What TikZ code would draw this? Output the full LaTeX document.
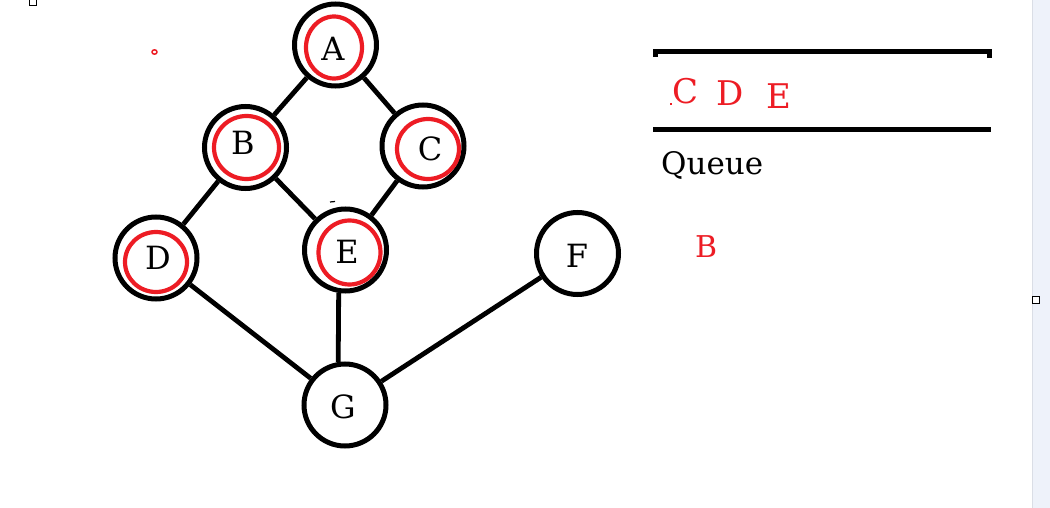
\documentclass[tikz,border=0pt]{standalone}
\usepackage{fontspec}
\setmainfont{DejaVu Serif}
\definecolor{pred}{RGB}{237,28,36}
\definecolor{stripfill}{RGB}{238,242,250}
\definecolor{stripline}{RGB}{218,222,230}
\begin{document}
\begin{tikzpicture}[x=1pt,y=-1pt,
  vertex/.style={circle,draw=black,line width=5pt,minimum size=82pt,inner sep=0pt},
  vlabel/.style={inner sep=0pt,font=\fontsize{32}{32}\selectfont},
  edge/.style={line width=4.8pt},
  ring/.style={draw=pred,line width=4.2pt},
  qtext/.style={text=pred,inner sep=0pt,anchor=base west,font=\fontsize{34}{34}\selectfont},
  qline/.style={line width=5pt}]
\useasboundingbox (0,0) rectangle (1050,508);
\fill[white] (0,0) rectangle (1050,508);
\fill[stripfill] (1032,0) rectangle (1050,508);
\draw[stripline,line width=1pt] (1032.5,0) -- (1032.5,508);
\draw[line width=1pt,fill=white] (1032.5,296.5) rectangle (1039,303);
\draw[line width=1pt] (29.5,-1) rectangle (36.5,5.5);
\draw[pred,line width=1.5pt] (154.5,52) ellipse (2.5 and 2.2);

% vertices
\node[vertex] (A) at (335.5,45) {};
\node[vertex] (B) at (245.5,147.5) {};
\node[vertex] (C) at (423,146) {};
\node[vertex] (D) at (156,258) {};
\node[vertex] (E) at (345.5,250) {};
\node[vertex] (F) at (577.5,253.5) {};
\node[vertex] (G) at (345,405) {};

% red rings
\draw[ring] (334,47.5) ellipse (28 and 31);
\draw[ring] (246.5,147.5) ellipse (32.5 and 31.5);
\draw[ring] (428,149) ellipse (31 and 30);
\draw[ring] (156,262) ellipse (31 and 30);
\draw[ring] (349.5,252.5) ellipse (31 and 32);

% labels
\node[vlabel] (tA) at (333,49) {A};
\node[vlabel] (tB) at (243,143) {B};
\node[vlabel] (tC) at (430,149) {C};
\node[vlabel] (tD) at (158,258) {D};
\node[vlabel] (tE) at (347,252) {E};
\node[vlabel] (tF) at (577,256) {F};
\node[vlabel] (tG) at (343,407) {G};

% edges
\draw[edge] (A) -- (B);
\draw[edge] (A) -- (C);
\draw[edge] (B) -- (D);
\draw[edge] (B) -- (E);
\draw[edge] (C) -- (E);
\draw[edge] (D) -- (G);
\draw[edge] (E.-99) -- (G.99);
\draw[edge] (F) -- (G);
\draw[line width=1.2pt] (330,202) -- (335,201.5);

% queue
\draw[qline] (655,57) -- (655,51.5) -- (989.5,51.5) -- (989.5,58);
\draw[qline] (653,130) -- (991,130);
\node[qtext] (q1) at (672,104) {C};
\node[qtext] (q2) at (716,106) {D};
\node[qtext] (q3) at (766,109) {E};
\fill[pred] (670,103) rectangle (672,105);
\node[inner sep=0pt,anchor=base west,font=\fontsize{31}{31}\selectfont] (qlabel) at (661,175) {Queue};
\node[qtext,font=\fontsize{30}{30}\selectfont] (qB) at (695,257) {B};
\end{tikzpicture}
\end{document}
